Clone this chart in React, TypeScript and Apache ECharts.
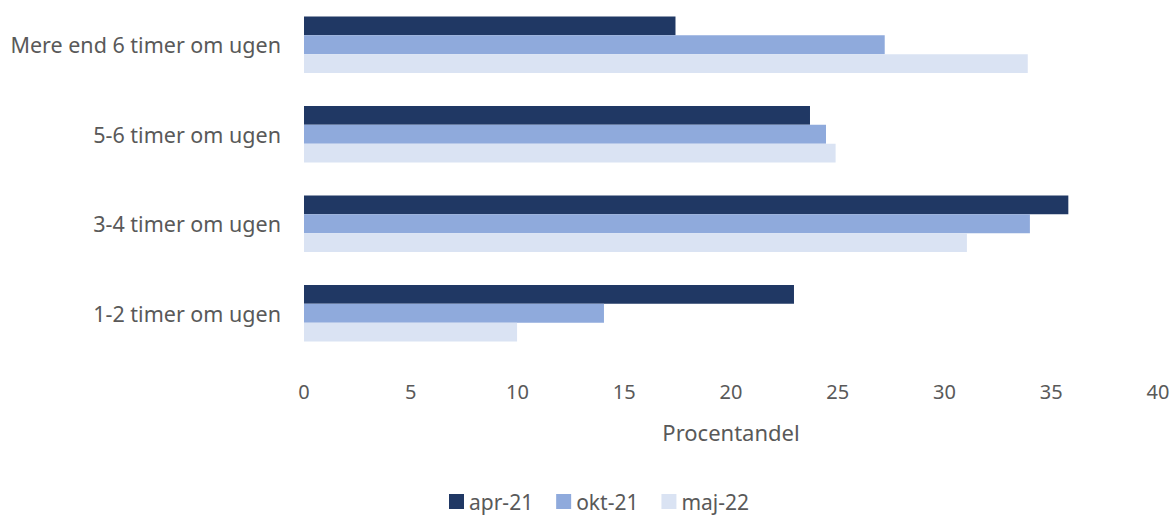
import React, { useEffect, useRef } from "react";
import * as echarts from "echarts";

const categories = ["1-2 timer om ugen", "3-4 timer om ugen", "5-6 timer om ugen", "Mere end 6 timer om ugen"];
const apr21 = [22.95, 35.8, 23.7, 17.4];
const okt21 = [14.05, 34.0, 24.45, 27.2];
const maj22 = [9.98, 31.05, 24.9, 33.9];
const xTicks = [0, 5, 10, 15, 20, 25, 30, 35, 40];

const FONT = "'Noto Sans', sans-serif";

export default function App() {
  const ref = useRef<HTMLDivElement>(null);
  useEffect(() => {
    if (!ref.current) return;
    const chart = echarts.init(ref.current, undefined, { renderer: "svg" });
    chart.setOption({
      animation: false,
      textStyle: { fontFamily: FONT },
      grid: { left: 304, right: 15, top: -3, bottom: 157, containLabel: false },
      legend: {
        bottom: -2,
        left: 444,
        itemWidth: 15,
        itemHeight: 15,
        itemGap: 23,
        icon: "rect",
        textStyle: { color: "#595959", fontSize: 21, fontFamily: FONT },
        data: ["apr-21", "okt-21", "maj-22"],
      },
      xAxis: {
        type: "value",
        min: xTicks[0],
        max: xTicks[xTicks.length - 1],
        interval: 5,
        name: "Procentandel",
        nameLocation: "middle",
        nameGap: 63,
        nameTextStyle: { color: "#595959", fontSize: 22, fontFamily: FONT },
        axisLine: { show: false },
        axisTick: { show: false },
        splitLine: { show: false },
        axisLabel: { color: "#595959", fontSize: 20, margin: 23, fontFamily: FONT },
      },
      yAxis: {
        type: "category",
        data: categories,
        axisLine: { show: false },
        axisTick: { show: false },
        axisLabel: { color: "#595959", fontSize: 21.5, margin: 23, fontFamily: FONT },
      },
      series: [
        { name: "apr-21", type: "bar", data: apr21, itemStyle: { color: "#203864" }, barGap: "0%", barCategoryGap: "37%" },
        { name: "okt-21", type: "bar", data: okt21, itemStyle: { color: "#8faadc" }, barGap: "0%", barCategoryGap: "37%" },
        { name: "maj-22", type: "bar", data: maj22, itemStyle: { color: "#dae3f3" }, barGap: "0%", barCategoryGap: "37%" },
      ],
    });
    return () => chart.dispose();
  }, []);
  return <div ref={ref} style={{ width: 1173, height: 515, position: "absolute", left: 0, top: 0 }} />;
}
